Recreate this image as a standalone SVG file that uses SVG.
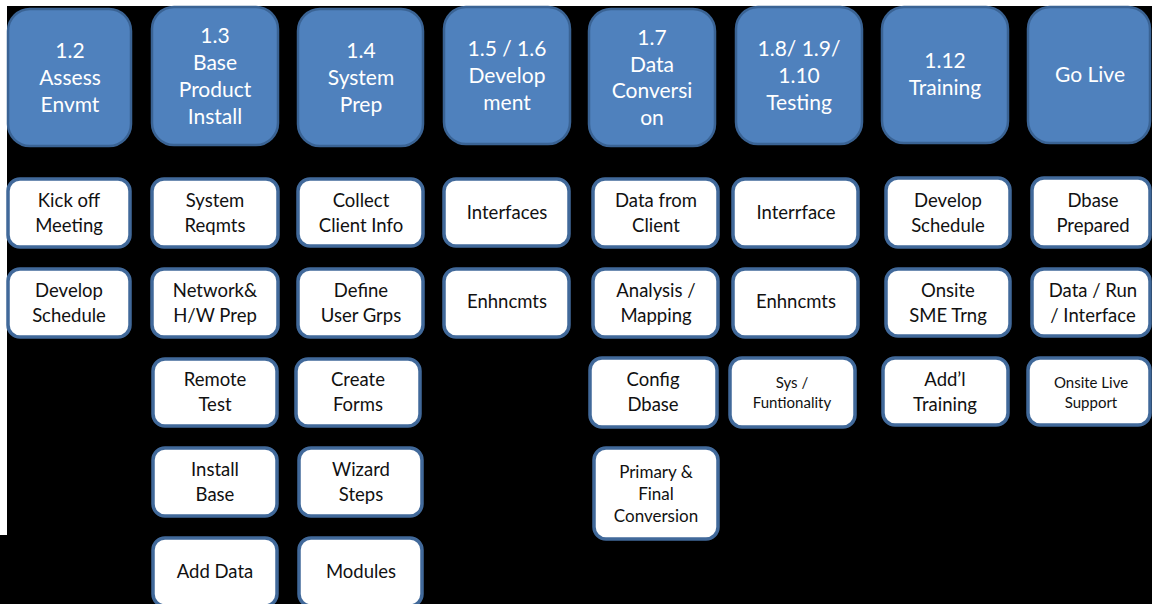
<svg xmlns="http://www.w3.org/2000/svg" width="1152" height="604" viewBox="0 0 1152 604">
<style>
.h{fill:#4F81BD;stroke:#3A6394;stroke-width:2.5}
.b{fill:#FFFFFF;stroke:#41699A;stroke-width:3.5}
.ht{font-family:Lato,"Liberation Sans",sans-serif;font-size:21px;fill:#FFFFFF;text-anchor:middle}
.t{font-family:Lato,"Liberation Sans",sans-serif;font-size:18.5px;fill:#111111;text-anchor:middle}
.s{font-family:Lato,"Liberation Sans",sans-serif;font-size:15px;fill:#111111;text-anchor:middle}
.m{font-family:Lato,"Liberation Sans",sans-serif;font-size:17px;fill:#111111;text-anchor:middle}
</style>
<rect x="0" y="0" width="1152" height="604" fill="#FFFFFF"/>
<rect x="7" y="6" width="1145" height="598" fill="#000000"/>
<rect x="0" y="535" width="1152" height="69" fill="#000000"/>
<g id="connectors"/>
<g id="h1"><rect class="h" x="8" y="9" width="123" height="137" rx="22"/><text class="ht"><tspan x="70" y="58">1.2</tspan><tspan x="70" y="85">Assess</tspan><tspan x="70" y="112">Envmt</tspan></text></g>
<g id="h2"><rect class="h" x="152" y="7" width="126" height="138" rx="22"/><text class="ht"><tspan x="215" y="43">1.3</tspan><tspan x="215" y="70">Base</tspan><tspan x="215" y="97">Product</tspan><tspan x="215" y="124">Install</tspan></text></g>
<g id="h3"><rect class="h" x="298" y="9" width="125" height="137" rx="22"/><text class="ht"><tspan x="361" y="58">1.4</tspan><tspan x="361" y="85">System</tspan><tspan x="361" y="112">Prep</tspan></text></g>
<g id="h4"><rect class="h" x="444" y="7" width="126" height="137" rx="22"/><text class="ht"><tspan x="507" y="56">1.5 / 1.6</tspan><tspan x="507" y="83">Develop</tspan><tspan x="507" y="110">ment</tspan></text></g>
<g id="h5"><rect class="h" x="589" y="9" width="126" height="137" rx="22"/><text class="ht"><tspan x="652" y="45">1.7</tspan><tspan x="652" y="72">Data</tspan><tspan x="652" y="98">Conversi</tspan><tspan x="652" y="125">on</tspan></text></g>
<g id="h6"><rect class="h" x="736" y="7" width="126" height="137" rx="22"/><text class="ht"><tspan x="799" y="56">1.8/ 1.9/</tspan><tspan x="799" y="83">1.10</tspan><tspan x="799" y="110">Testing</tspan></text></g>
<g id="h7"><rect class="h" x="882" y="7" width="126" height="136" rx="22"/><text class="ht"><tspan x="945" y="68">1.12</tspan><tspan x="945" y="95">Training</tspan></text></g>
<g id="h8"><rect class="h" x="1028" y="7" width="122" height="136" rx="22"/><text class="ht"><tspan x="1090" y="82">Go Live</tspan></text></g>

<g id="c1r1"><rect class="b" x="8" y="179" width="122" height="68" rx="12"/><text class="t"><tspan x="69" y="207">Kick off</tspan><tspan x="69" y="232">Meeting</tspan></text></g>
<g id="c1r2"><rect class="b" x="8" y="269" width="122" height="68" rx="12"/><text class="t"><tspan x="69" y="297">Develop</tspan><tspan x="69" y="322">Schedule</tspan></text></g>

<g id="c2r1"><rect class="b" x="152" y="179" width="126" height="68" rx="12"/><text class="t"><tspan x="215" y="207">System</tspan><tspan x="215" y="232">Reqmts</tspan></text></g>
<g id="c2r2"><rect class="b" x="152" y="269" width="126" height="68" rx="12"/><text class="t"><tspan x="215" y="297">Network&amp;</tspan><tspan x="215" y="322">H/W Prep</tspan></text></g>
<g id="c2r3"><rect class="b" x="153" y="359" width="124" height="67" rx="12"/><text class="t"><tspan x="215" y="386">Remote</tspan><tspan x="215" y="411">Test</tspan></text></g>
<g id="c2r4"><rect class="b" x="153" y="448" width="124" height="68" rx="12"/><text class="t"><tspan x="215" y="476">Install</tspan><tspan x="215" y="501">Base</tspan></text></g>
<g id="c2r5"><rect class="b" x="153" y="538" width="124" height="68" rx="12"/><text class="t"><tspan x="215" y="578">Add Data</tspan></text></g>

<g id="c3r1"><rect class="b" x="298" y="179" width="125" height="67" rx="12"/><text class="t"><tspan x="361" y="207">Collect</tspan><tspan x="361" y="232">Client Info</tspan></text></g>
<g id="c3r2"><rect class="b" x="298" y="269" width="125" height="68" rx="12"/><text class="t"><tspan x="361" y="297">Define</tspan><tspan x="361" y="322">User Grps</tspan></text></g>
<g id="c3r3"><rect class="b" x="296" y="359" width="124" height="67" rx="12"/><text class="t"><tspan x="358" y="386">Create</tspan><tspan x="358" y="411">Forms</tspan></text></g>
<g id="c3r4"><rect class="b" x="299" y="448" width="123" height="68" rx="12"/><text class="t"><tspan x="361" y="476">Wizard</tspan><tspan x="361" y="501">Steps</tspan></text></g>
<g id="c3r5"><rect class="b" x="299" y="538" width="123" height="68" rx="12"/><text class="t"><tspan x="361" y="578">Modules</tspan></text></g>

<g id="c4r1"><rect class="b" x="444" y="179" width="125" height="67" rx="12"/><text class="t"><tspan x="507" y="219">Interfaces</tspan></text></g>
<g id="c4r2"><rect class="b" x="444" y="269" width="125" height="68" rx="12"/><text class="t"><tspan x="507" y="308">Enhncmts</tspan></text></g>

<g id="c5r1"><rect class="b" x="593" y="179" width="125" height="68" rx="12"/><text class="t"><tspan x="656" y="207">Data from</tspan><tspan x="656" y="232">Client</tspan></text></g>
<g id="c5r2"><rect class="b" x="593" y="269" width="125" height="68" rx="12"/><text class="t"><tspan x="656" y="297">Analysis /</tspan><tspan x="656" y="322">Mapping</tspan></text></g>
<g id="c5r3"><rect class="b" x="590" y="358" width="127" height="69" rx="12"/><text class="t"><tspan x="653" y="386">Config</tspan><tspan x="653" y="411">Dbase</tspan></text></g>
<g id="c5r4"><rect class="b" x="594" y="448" width="124" height="91" rx="12"/><text class="m"><tspan x="656" y="478">Primary &amp;</tspan><tspan x="656" y="500">Final</tspan><tspan x="656" y="522">Conversion</tspan></text></g>

<g id="c6r1"><rect class="b" x="733" y="179" width="125" height="68" rx="12"/><text class="t"><tspan x="796" y="219">Interrface</tspan></text></g>
<g id="c6r2"><rect class="b" x="733" y="269" width="125" height="68" rx="12"/><text class="t"><tspan x="796" y="308">Enhncmts</tspan></text></g>
<g id="c6r3"><rect class="b" x="730" y="358" width="125" height="69" rx="12"/><text class="s"><tspan x="792" y="388">Sys /</tspan><tspan x="792" y="408">Funtionality</tspan></text></g>

<g id="c7r1"><rect class="b" x="886" y="178" width="124" height="69" rx="12"/><text class="t"><tspan x="948" y="207">Develop</tspan><tspan x="948" y="232">Schedule</tspan></text></g>
<g id="c7r2"><rect class="b" x="886" y="269" width="124" height="67" rx="12"/><text class="t"><tspan x="948" y="297">Onsite</tspan><tspan x="948" y="322">SME Trng</tspan></text></g>
<g id="c7r3"><rect class="b" x="883" y="358" width="125" height="67" rx="12"/><text class="t"><tspan x="945" y="386">Add’l</tspan><tspan x="945" y="411">Training</tspan></text></g>

<g id="c8r1"><rect class="b" x="1032" y="178" width="118" height="69" rx="12"/><text class="t"><tspan x="1093" y="207">Dbase</tspan><tspan x="1093" y="232">Prepared</tspan></text></g>
<g id="c8r2"><rect class="b" x="1032" y="269" width="118" height="67" rx="12"/><text class="t"><tspan x="1093" y="297">Data / Run</tspan><tspan x="1093" y="322">/ Interface</tspan></text></g>
<g id="c8r3"><rect class="b" x="1028" y="358" width="122" height="67" rx="12"/><text class="s"><tspan x="1091" y="388">Onsite Live</tspan><tspan x="1091" y="408">Support</tspan></text></g>
</svg>
